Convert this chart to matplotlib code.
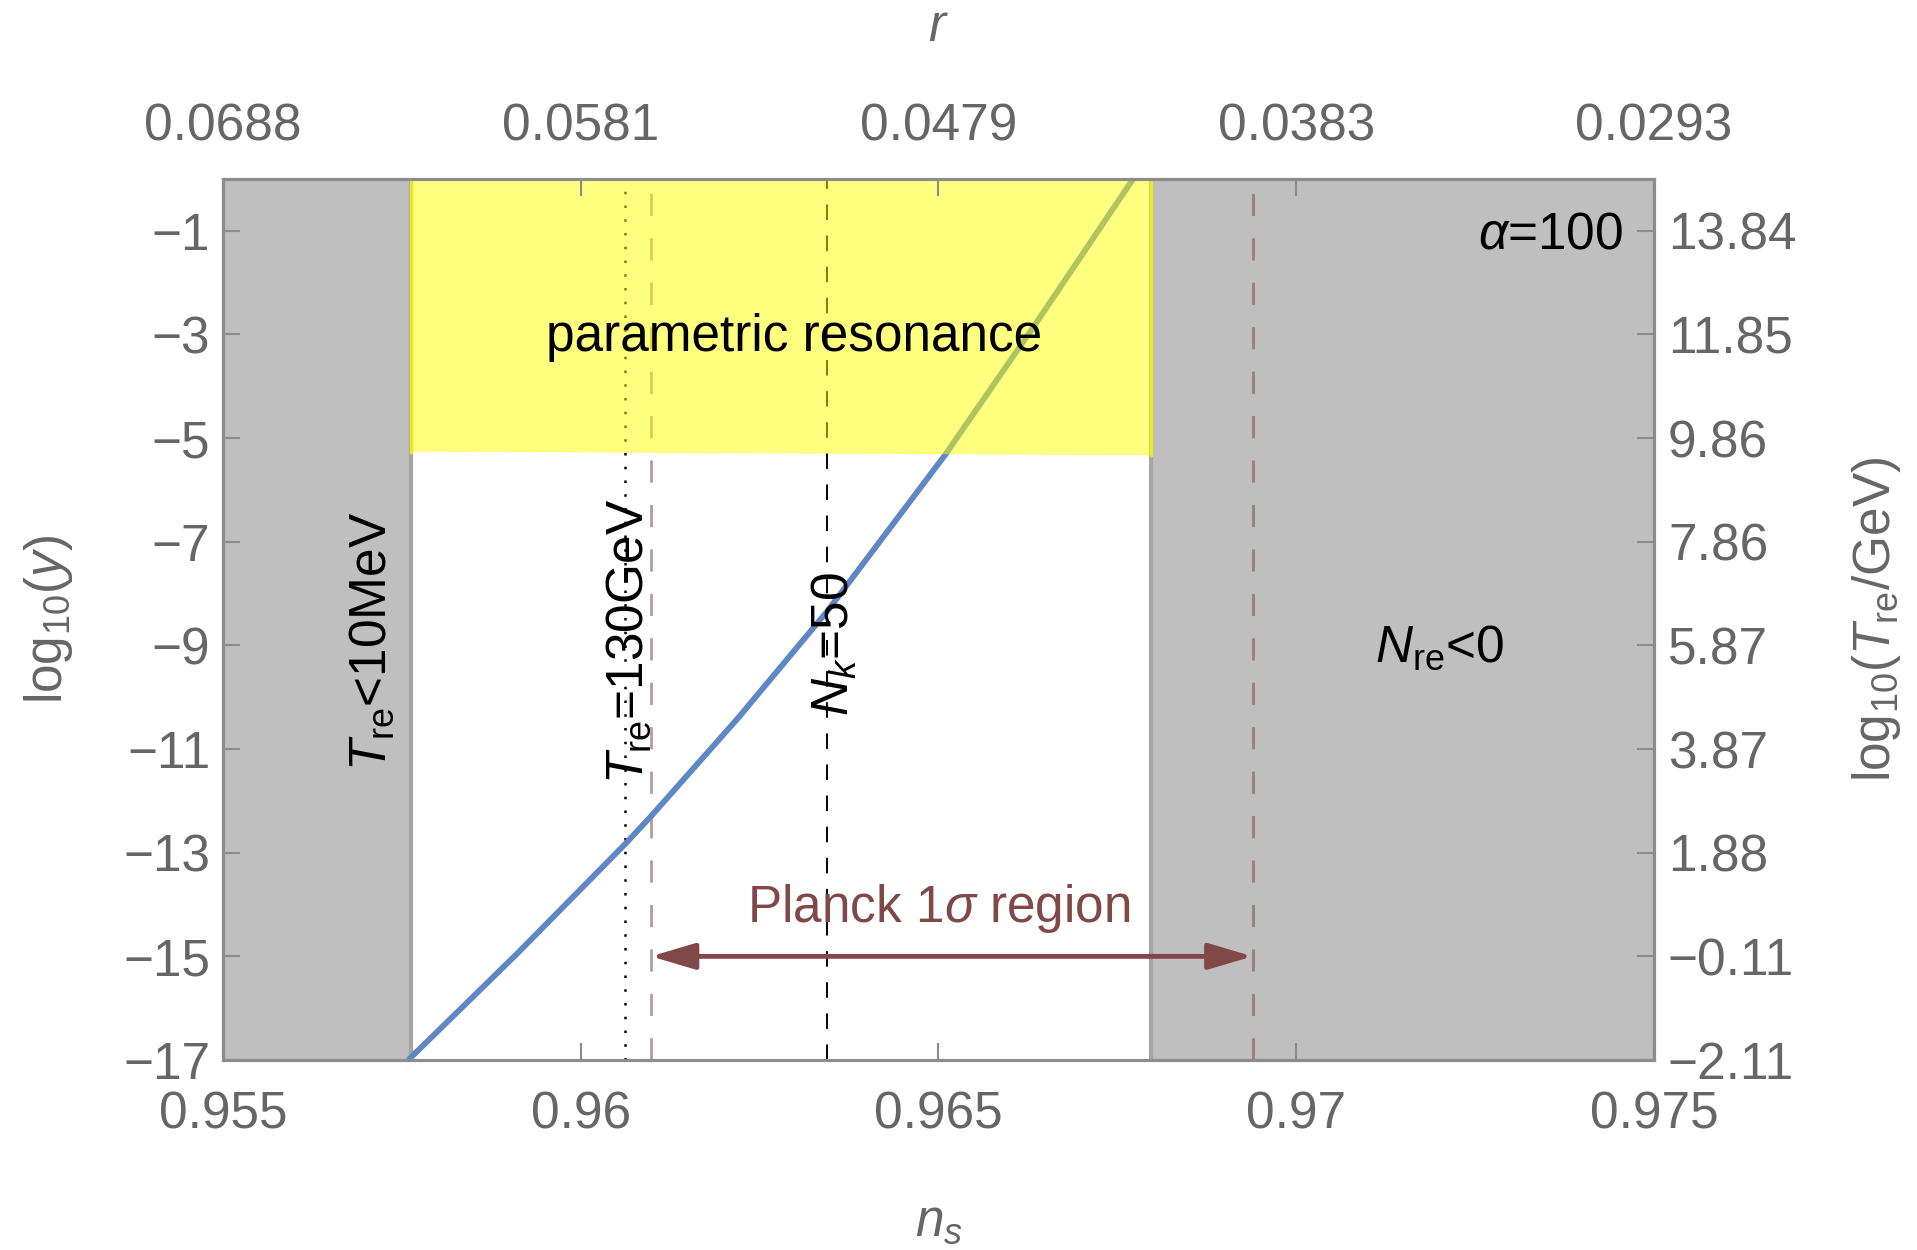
import matplotlib
matplotlib.use("Agg")
import matplotlib.pyplot as plt

plt.rcParams['font.family'] = ['Liberation Sans', 'DejaVu Sans']
plt.rcParams['mathtext.fontset'] = 'custom'
plt.rcParams['mathtext.rm'] = 'Liberation Sans'
plt.rcParams['mathtext.it'] = 'Liberation Sans:italic'
plt.rcParams['axes.unicode_minus'] = True

# data
ns_curve = [0.95759, 0.95911, 0.96063, 0.96100, 0.96220, 0.96344, 0.96509, 0.96633, 0.96772]
logy_curve = [-17.0, -14.95, -12.82, -12.27, -10.40, -8.35, -5.33, -2.85, 0.0]

ns_tre_min = 0.95763      # T_re < 10 MeV boundary
ns_nre_zero = 0.96797     # N_re < 0 boundary
pr_bottom = [-5.26, -5.33]  # lower edge of parametric resonance band (left, right)
ns_tre130 = 0.96062
ns_nk50 = 0.96344
planck_lo, planck_hi = 0.96098, 0.96939

bottom_ticks = [0.955, 0.96, 0.965, 0.97, 0.975]
bottom_labels = ['0.955', '0.96', '0.965', '0.97', '0.975']
top_labels = ['0.0688', '0.0581', '0.0479', '0.0383', '0.0293']
left_ticks = [-1, -3, -5, -7, -9, -11, -13, -15, -17]
right_labels = ['13.84', '11.85', '9.86', '7.86', '5.87', '3.87', '1.88', '\u22120.11', '\u22122.11']

fs = 37
frame_col = '#8c8c8c'
tick_col = '#666666'
planck_col = '#804848'
gray_fill = '#bfbfbf'


def main():
    fig = plt.figure(figsize=(19.17, 12.5), dpi=100)
    ax = fig.add_axes([0.1163, 0.152, 0.7465, 0.7048])
    ax.set_xlim(0.955, 0.975)
    ax.set_ylim(-17, 0)

    # excluded regions
    ax.axvspan(0.955, ns_tre_min, color=gray_fill, lw=0, zorder=1)
    ax.axvspan(ns_nre_zero, 0.975, color=gray_fill, lw=0, zorder=1)
    ax.axvline(ns_tre_min, color='#a5a5a5', lw=3, zorder=1.5)
    ax.axvline(ns_nre_zero, color='#a5a5a5', lw=3, zorder=1.5)

    # curve
    ax.plot(ns_curve, logy_curve, color='#5f87c4', lw=4.2, zorder=3,
            solid_capstyle='butt', solid_joinstyle='round')

    # vertical markers
    ax.axvline(ns_tre130, color='black', lw=1.8, ls=(0, (1, 4.5)), zorder=2.5)
    ax.axvline(ns_nk50, color='black', lw=1.4, ls=(0, (8, 8)), zorder=2.5)
    for x in (planck_lo, planck_hi):
        ax.axvline(x, color=planck_col, alpha=0.55, lw=2, ls=(0, (8, 8)), zorder=2.5)

    # parametric resonance band on top (semi-transparent yellow)
    ax.fill([ns_tre_min, ns_nre_zero, ns_nre_zero, ns_tre_min],
            [pr_bottom[0], pr_bottom[1], 0, 0],
            facecolor='yellow', alpha=0.5, edgecolor='none', zorder=4)
    ax.plot([ns_tre_min, ns_tre_min], [pr_bottom[0], 0], color='#e8e830', lw=2.5, zorder=4)
    ax.plot([ns_nre_zero, ns_nre_zero], [pr_bottom[1], 0], color='#e8e830', lw=2.5, zorder=4)

    # Planck arrow
    ax.annotate('', xy=(planck_hi, -15), xytext=(planck_lo, -15),
                arrowprops=dict(arrowstyle='<|-|>,head_length=2.7,head_width=0.8',
                                color=planck_col, lw=3.5, shrinkA=0, shrinkB=0),
                zorder=5)
    ax.text(0.965, -14.08, r'Planck 1$\sigma$ region', color=planck_col, fontsize=fs,
            ha='center', va='center', zorder=6)

    # annotations
    ax.text(0.96298, -3.05, 'parametric resonance', fontsize=fs, ha='center', va='center', zorder=6)
    ax.text(0.95709, -8.93, r'$T_{\mathrm{re}}$<10MeV', fontsize=fs, rotation=90,
            ha='center', va='center', zorder=6)
    ax.text(0.96068, -8.93, r'$T_{\mathrm{re}}$=130GeV', fontsize=fs, rotation=90,
            ha='center', va='center', zorder=6)
    ax.text(0.96355, -8.98, r'$N_k$=50', fontsize=fs, rotation=90,
            ha='center', va='center', zorder=6)
    ax.text(0.97201, -9.05, r'$N_{\mathrm{re}}$<0', fontsize=fs, ha='center', va='center', zorder=6)
    ax.text(0.97457, -1.08, r'$\alpha$=100', fontsize=fs, ha='right', va='center', zorder=6)

    # frame and ticks
    for sp in ax.spines.values():
        sp.set_color(frame_col)
        sp.set_linewidth(2.2)
        sp.set_zorder(7)

    ax.set_xticks(bottom_ticks)
    ax.set_xticklabels(bottom_labels)
    ax.set_yticks(left_ticks)
    ax.set_yticklabels(['\u2212%d' % abs(v) for v in left_ticks])
    ax.tick_params(axis='x', direction='in', length=12, width=1.5, color=frame_col,
                   labelcolor=tick_col, labelsize=fs, pad=22, top=False)
    ax.tick_params(axis='y', direction='in', length=12, width=1.5, color=frame_col,
                   labelcolor=tick_col, labelsize=fs, pad=9, right=False)

    axt = ax.twiny()
    axt.set_xlim(ax.get_xlim())
    axt.set_xticks(bottom_ticks)
    axt.set_xticklabels(top_labels)
    axt.tick_params(axis='x', direction='in', length=12, width=1.5, color=frame_col,
                    labelcolor=tick_col, labelsize=fs, pad=20)

    axr = ax.twinx()
    axr.set_ylim(ax.get_ylim())
    axr.set_yticks(left_ticks)
    axr.set_yticklabels(right_labels)
    axr.tick_params(axis='y', direction='in', length=12, width=1.5, color=frame_col,
                    labelcolor=tick_col, labelsize=fs, pad=10)
    for a in (axt, axr):
        for sp in a.spines.values():
            sp.set_color(frame_col)
            sp.set_linewidth(2.2)

    # axis labels
    ax.set_xlabel(r'$n_s$', fontsize=fs, color=tick_col, va='center')
    ax.xaxis.set_label_coords(0.5, -0.184)
    ax.set_ylabel(r'$\mathrm{log}_{10}(y)$', fontsize=fs, color=tick_col, va='center')
    ax.yaxis.set_label_coords(-0.1216, 0.5)
    axt.set_xlabel(r'$r$', fontsize=fs, color=tick_col, va='center')
    axt.xaxis.set_label_coords(0.5, 1.1725)
    axr.set_ylabel(r'$\mathrm{log}_{10}(T_{\mathrm{re}}/\mathrm{GeV})$', fontsize=fs,
                   color=tick_col, va='center')
    axr.yaxis.set_label_coords(1.1558, 0.5)

    fig.savefig('out.png', dpi=100)
    plt.close(fig)


if __name__ == '__main__':
    main()
